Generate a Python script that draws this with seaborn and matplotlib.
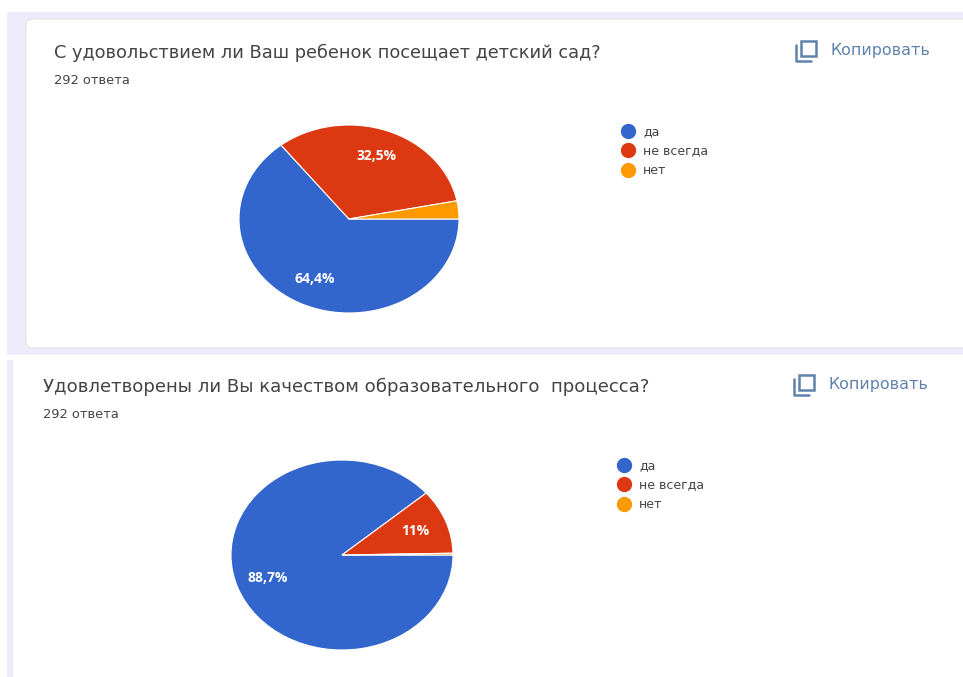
import matplotlib
matplotlib.use("Agg")
import matplotlib.pyplot as plt
import seaborn as sns
from matplotlib.lines import Line2D
from matplotlib.patches import FancyBboxPatch, Rectangle

sns.set_theme(style="white")
plt.rcParams['font.family'] = ['DejaVu Sans']

W, H = 963, 677

categories = ["да", "не всегда", "нет"]
colors = sns.color_palette(["#3366CC", "#DC3912", "#FF9900"])

title_1 = "С удовольствием ли Ваш ребенок посещает детский сад?"
values_1 = [64.4, 32.5, 3.1]
labels_1 = ["64,4%", "32,5%", ""]

title_2 = "Удовлетворены ли Вы качеством образовательного  процесса?"
values_2 = [88.7, 11.0, 0.3]
labels_2 = ["88,7%", "11%", ""]

answers = "292 ответа"
copy_text = "Копировать"

LAVENDER = "#EEEBFA"
TEXT = "#444444"
LINK = "#5f82ad"


def add_pie(fig, values, labels, cx, cy, rx, ry):
    ax = fig.add_axes([(cx - rx) / W, 1 - (cy + ry) / H, 2 * rx / W, 2 * ry / H])
    wedges, _, autotexts = ax.pie(
        values, colors=colors, startangle=0, counterclock=False, autopct="%.1f",
        pctdistance=0.71, wedgeprops={"edgecolor": "white", "linewidth": 0.8},
        textprops={"color": "white", "fontsize": 10, "fontweight": "bold",
                   "family": ["Open Sans", "DejaVu Sans"]},
    )
    for t, lab in zip(autotexts, labels):
        t.set_text(lab)
    ax.set_aspect("auto")
    ax.set_xlim(-1, 1)
    ax.set_ylim(-1, 1)
    ax.patch.set_alpha(0)
    for w in wedges:
        w.set_clip_on(False)
    return ax


def add_legend(fig, x, y):
    handles = [Line2D([], [], linestyle="", marker="o", markersize=10, color=c) for c in colors]
    fig.legend(
        handles, categories, loc="upper left", bbox_to_anchor=(x / W, 1 - y / H),
        frameon=False, fontsize=9, labelspacing=0.52,
        handletextpad=0.25, borderpad=0, borderaxespad=0, labelcolor="#444444",
    )


def add_copy(bg, x, y):
    # значок "копировать" и подпись
    bg.add_patch(Rectangle((x + 5, y - 9), 15, 15, fill=False, edgecolor=LINK, linewidth=1.8))
    bg.plot([x, x, x + 15], [y - 5, y + 11, y + 11], color=LINK, linewidth=1.8)
    bg.text(x + 35, y, copy_text, fontsize=11.4, color=LINK, va="center")


fig = plt.figure(figsize=(W / 100, H / 100), dpi=100, facecolor="white")

bg = fig.add_axes([0, 0, 1, 1])
bg.set_xlim(0, W)
bg.set_ylim(H, 0)
bg.axis("off")

# фон карточек
bg.add_patch(Rectangle((7, 12), W - 7, 343, facecolor=LAVENDER, edgecolor="none"))
bg.add_patch(FancyBboxPatch((33, 26), W, 315, boxstyle="round,pad=7,rounding_size=7",
                            facecolor="white", edgecolor="#e2e2e6", linewidth=0.8))
bg.add_patch(Rectangle((7, 360), 6, H - 360, facecolor=LAVENDER, edgecolor="none"))

# первая карточка
bg.text(54, 53, title_1, fontsize=12.8, color=TEXT, va="center")
bg.text(54, 81, answers, fontsize=9.4, color=TEXT, va="center")
add_copy(bg, 796, 50)
add_legend(fig, 615, 125)
add_pie(fig, values_1, labels_1, 349, 219, 110, 94)

# вторая карточка
bg.text(43, 387, title_2, fontsize=13.1, color=TEXT, va="center")
bg.text(43, 414, answers, fontsize=9.4, color=TEXT, va="center")
add_copy(bg, 794, 384)
add_legend(fig, 611, 459)
add_pie(fig, values_2, labels_2, 342, 555, 111, 95)

fig.savefig("out.png", dpi=100)
plt.close(fig)
